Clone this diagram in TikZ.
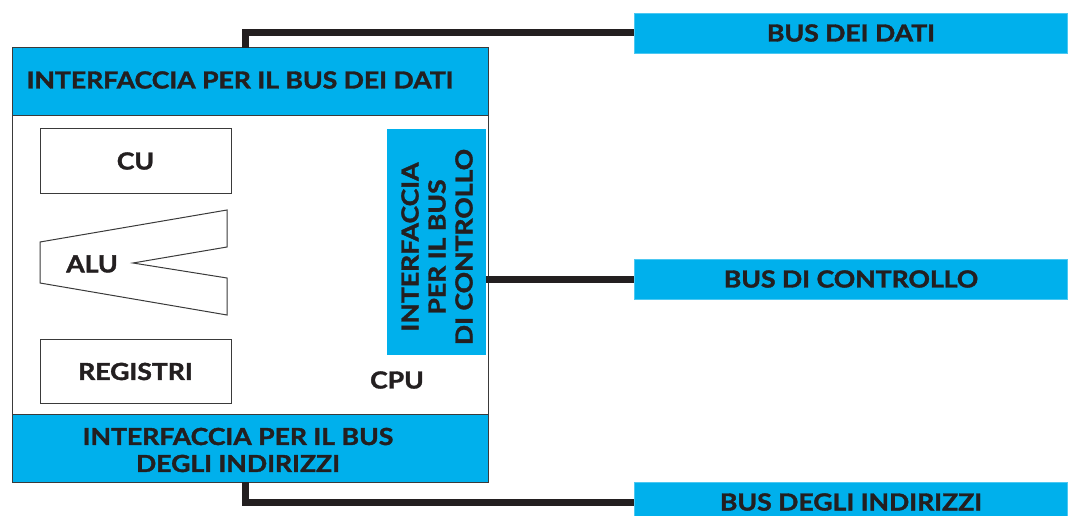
\documentclass[tikz,border=0pt]{standalone}
\usepackage{fontspec}
\setmainfont{Lato}[UprightFont=* Bold, FakeBold=1.6, FakeStretch=1.13]
\definecolor{cyanbus}{HTML}{00B0EC}
\definecolor{ink}{HTML}{231F20}
\definecolor{edge}{HTML}{3A3A3A}
\begin{document}
\begin{tikzpicture}[x=1pt,y=-1pt,
  lbl/.style={font=\fontsize{23.5}{27}\selectfont, text=ink, inner sep=0pt, align=center},
  blu/.style={fill=cyanbus, draw=edge, line width=1pt, inner sep=0pt},
  busbox/.style={fill=cyanbus, draw=cyanbus!70!white, line width=0.8pt, inner sep=0pt, minimum width=433pt, minimum height=40pt, font=\fontsize{23.5}{27}\selectfont, text=ink},
  wbox/.style={draw=edge, line width=1pt, inner sep=0pt, minimum width=191pt, minimum height=64pt, font=\fontsize{23.5}{27}\selectfont, text=ink},
  bus/.style={line width=7pt, draw=ink}]
\useasboundingbox (0,0) rectangle (1068,516);
% CPU frame
\node[draw=edge, line width=1pt, fill=white, minimum width=476pt, minimum height=434pt, inner sep=0pt] (cpu) at (250,265) {};
% interfaces
\node[blu, minimum width=476pt, minimum height=68pt] (dataif) at (250,82) {};
\node[lbl] (dataiftxt) at (240,80) {INTERFACCIA PER IL BUS DEI DATI};
\node[blu, minimum width=476pt, minimum height=68pt] (addrif) at (250,448) {};
\node[lbl] (addriftxt) at (238,450) {INTERFACCIA PER IL BUS\\DEGLI INDIRIZZI};
\node[fill=cyanbus, inner sep=0pt, minimum width=99pt, minimum height=226pt] (ctrlif) at (436.5,242) {};
\node[lbl, rotate=90] (ctrliftxt) at (437,247) {INTERFACCIA\\PER IL BUS\\DI CONTROLLO};
% internal units
\node[wbox] (cu) at (135.5,161) {CU};
\node[wbox] (reg) at (135.5,371.5) {REGISTRI};
\draw[edge, line width=1pt, fill=white] (40,242) -- (227,210) -- (227,247) -- (133,263) -- (227,278) -- (227,315) -- (40,283) -- cycle;
\node[lbl] (alu) at (92,264) {ALU};
\node[lbl] (cpulbl) at (397,380) {CPU};
% buses
\node[busbox] (busdati) at (851,33) {BUS DEI DATI};
\node[busbox] (busctrl) at (851,279) {BUS DI CONTROLLO};
\node[busbox] (busaddr) at (851,502) {BUS DEGLI INDIRIZZI};
% connectors
\coordinate (dtop) at (245,48);
\coordinate (abot) at (245,482);
\draw[bus] (dtop) |- (busdati.west);
\draw[bus] (ctrlif.east |- busctrl.west) -- (busctrl.west);
\draw[bus] (abot) |- (busaddr.west);
\end{tikzpicture}
\end{document}
